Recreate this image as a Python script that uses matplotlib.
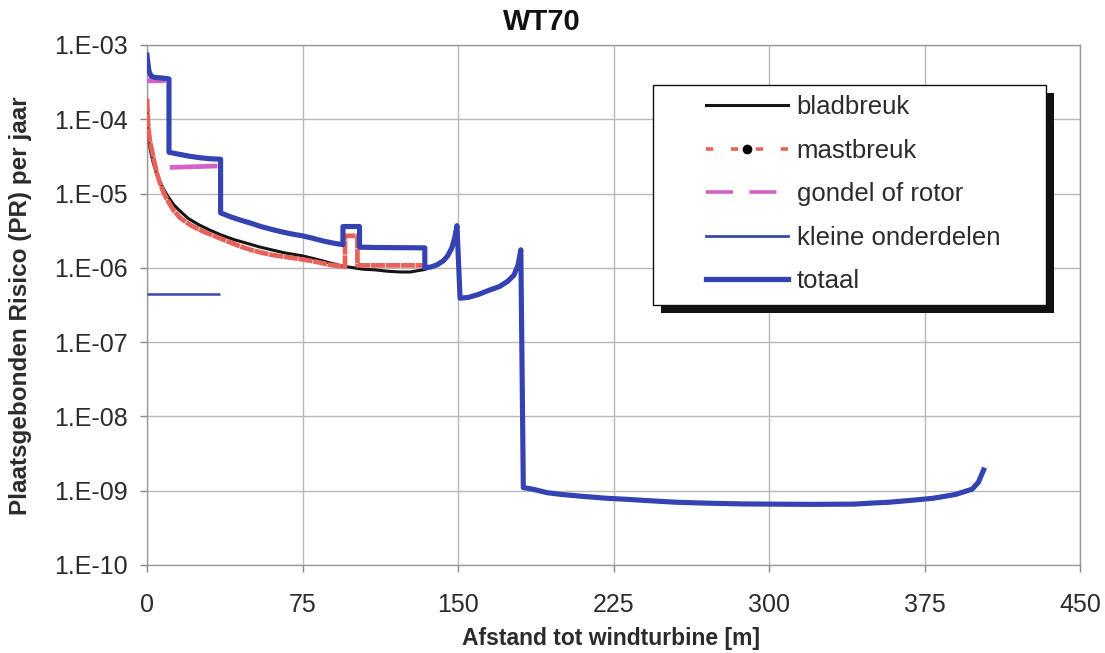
import numpy as np
import matplotlib
matplotlib.use("Agg")
import matplotlib.pyplot as plt
from matplotlib.lines import Line2D
from matplotlib.patches import Rectangle
from matplotlib.legend_handler import HandlerTuple

plt.rcParams['font.family'] = ['Liberation Sans', 'DejaVu Sans']

# ---------------- data ----------------
title = "WT70"
xlabel = "Afstand tot windturbine [m]"
ylabel = "Plaatsgebonden Risico (PR) per jaar"
x_ticks = [0, 75, 150, 225, 300, 375, 450]
y_ticks = [1e-10, 1e-9, 1e-8, 1e-7, 1e-6, 1e-5, 1e-4, 1e-3]
y_ticklabels = ["1.E-10", "1.E-09", "1.E-08", "1.E-07", "1.E-06", "1.E-05", "1.E-04", "1.E-03"]
series_names = ["bladbreuk", "mastbreuk", "gondel of rotor", "kleine onderdelen", "totaal"]

bladbreuk_x = [0, 0.3, 0.7, 1.2, 2, 3, 4.5, 6, 8, 10, 13, 16, 20, 25, 30, 36, 42, 48, 54,
               60, 67, 75, 82, 88, 94, 100, 104, 110, 116, 122, 127, 131, 134]
bladbreuk_y = [1.5e-4, 9e-5, 6e-5, 4.5e-5, 3.4e-5, 2.6e-5, 1.9e-5, 1.5e-5, 1.15e-5, 9.2e-6,
               7.0e-6, 5.8e-6, 4.6e-6, 3.8e-6, 3.25e-6, 2.75e-6, 2.4e-6, 2.15e-6, 1.92e-6,
               1.75e-6, 1.58e-6, 1.45e-6, 1.3e-6, 1.17e-6, 1.06e-6, 1.0e-6, 9.6e-7, 9.4e-7,
               9.0e-7, 8.8e-7, 8.8e-7, 9.2e-7, 9.5e-7]

mastbreuk_x = [0, 0.6, 1.3, 2.3, 3.5, 4.7, 6, 7.9, 10, 12.7, 16, 20.7, 25, 28.8, 33, 36.8,
               41, 44.9, 50, 54.5, 60, 67, 75, 82, 88, 95.5, 95.5, 101.5, 101.5, 110, 120, 134]
mastbreuk_y = [1.9e-4, 8e-5, 5.3e-5, 3.9e-5, 2.7e-5, 1.9e-5, 1.45e-5, 1.05e-5, 8.0e-6, 6.0e-6,
               4.7e-6, 3.8e-6, 3.3e-6, 2.95e-6, 2.65e-6, 2.4e-6, 2.15e-6, 1.95e-6, 1.75e-6,
               1.62e-6, 1.5e-6, 1.4e-6, 1.3e-6, 1.2e-6, 1.1e-6, 1.03e-6, 2.7e-6, 2.7e-6,
               1.08e-6, 1.08e-6, 1.08e-6, 1.08e-6]

gondel_x = [0, 9, np.nan, 11, 34]
gondel_y = [3.3e-4, 3.3e-4, np.nan, 2.25e-5, 2.35e-5]

kleine_x = [0, 35]
kleine_y = [4.4e-7, 4.4e-7]

totaal_x = [0, 0.5, 1, 2, 4, 7, 10.6, 10.6, 15, 20, 25, 30, 35.5, 35.5, 40, 45, 50, 55, 60,
            65, 70, 75, 80, 85, 90, 94.5, 94.5, 102.5, 102.5, 110, 120, 134, 134, 137, 140,
            143, 145, 147, 148.5, 149.5, 151, 155, 160, 165, 170, 174, 177, 179, 180.3, 181.5,
            186, 193, 200, 210, 222, 230, 240, 255, 270, 286, 300, 320, 341, 349, 358, 368,
            379, 390, 398, 401, 403.5]
totaal_y = [7.3e-4, 5.5e-4, 4.4e-4, 3.8e-4, 3.65e-4, 3.6e-4, 3.5e-4, 3.6e-5, 3.4e-5, 3.2e-5,
            3.05e-5, 2.95e-5, 2.9e-5, 5.5e-6, 4.9e-6, 4.4e-6, 4.0e-6, 3.6e-6, 3.3e-6, 3.05e-6,
            2.85e-6, 2.7e-6, 2.5e-6, 2.3e-6, 2.15e-6, 2.05e-6, 3.6e-6, 3.6e-6, 1.9e-6, 1.88e-6,
            1.87e-6, 1.86e-6, 1.0e-6, 1.03e-6, 1.1e-6, 1.25e-6, 1.45e-6, 1.85e-6, 2.6e-6,
            3.7e-6, 3.9e-7, 4.0e-7, 4.4e-7, 5.0e-7, 5.6e-7, 6.6e-7, 8.0e-7, 1.1e-6, 1.75e-6,
            1.1e-9, 1.05e-9, 9.4e-10, 8.9e-10, 8.4e-10, 7.9e-10, 7.7e-10, 7.4e-10, 7.0e-10,
            6.8e-10, 6.65e-10, 6.6e-10, 6.55e-10, 6.6e-10, 6.8e-10, 7.0e-10, 7.4e-10, 7.9e-10,
            8.9e-10, 1.05e-9, 1.3e-9, 1.9e-9]

# ---------------- styles ----------------
c_black = '#151515'
c_red = '#e8625a'
c_pink = '#d462c6'
c_blue_thin = '#3a48aa'
c_blue = '#3442b2'
c_text = '#2b2b2b'
c_grid = '#b8b8b8'

W, H = 1105, 653
fig = plt.figure(figsize=(W / 100, H / 100), dpi=100)
L, R, T, B = 147, 1080, 45, 565
ax = fig.add_axes([L / W, 1 - B / H, (R - L) / W, (B - T) / H])

ax.set_yscale('log')
ax.set_xlim(0, 450)
ax.set_ylim(1e-10, 1e-3)

ax.plot(kleine_x, kleine_y, color=c_blue_thin, lw=1.8, zorder=3, solid_capstyle='butt')
ax.plot(gondel_x, gondel_y, color=c_pink, lw=3.4, zorder=3, solid_capstyle='butt')
ax.plot(bladbreuk_x, bladbreuk_y, color=c_black, lw=2.2, zorder=3)
ax.plot(mastbreuk_x, mastbreuk_y, color=c_red, lw=3.4, zorder=4,
        linestyle=(0, (3.0, 0.15)))
ax.plot(totaal_x, totaal_y, color=c_blue, lw=3.7, zorder=5, solid_joinstyle='round')

# axes styling
ax.set_xticks(x_ticks)
ax.set_xticklabels([str(v) for v in x_ticks])
ax.set_yticks(y_ticks)
ax.set_yticklabels(y_ticklabels)
ax.yaxis.set_minor_locator(matplotlib.ticker.NullLocator())
ax.grid(True, which='major', color=c_grid, lw=1.0)
ax.set_axisbelow(True)
for s in ax.spines.values():
    s.set_color('#999999')
    s.set_linewidth(1.0)
ax.tick_params(axis='both', which='major', direction='out', length=5, width=1,
               color='#888888', labelsize=18, labelcolor=c_text)
ax.tick_params(axis='y', pad=9)
ax.tick_params(axis='x', pad=15)

fig.text(542 / W, 1 - 22 / H, title, ha='center', va='center', fontsize=21,
         fontweight='bold', color='#111111')
fig.text(611 / W, 1 - 639 / H, xlabel, ha='center', va='center', fontsize=16.5,
         fontweight='bold', color=c_text)
fig.text(21 / W, 1 - 306 / H, ylabel, ha='center', va='center', fontsize=17.5,
         fontweight='bold', color=c_text, rotation=90)

# legend box with hard shadow
def ax_x(px):
    return (px - L) / (R - L)

def ax_y(py):
    return (B - py) / (B - T)

bx0, bx1, by0, by1 = 653, 1046, 85, 305
sh = 8
ax.add_patch(Rectangle((ax_x(bx0 + sh), ax_y(by1 + sh)), ax_x(bx1 + sh) - ax_x(bx0 + sh),
                       ax_y(by0 + sh) - ax_y(by1 + sh), transform=ax.transAxes,
                       facecolor='#111111', edgecolor='none', zorder=8, clip_on=False))
ax.add_patch(Rectangle((ax_x(bx0), ax_y(by1)), ax_x(bx1) - ax_x(bx0),
                       ax_y(by0) - ax_y(by1), transform=ax.transAxes,
                       facecolor='white', edgecolor='#111111', lw=1.0, zorder=9, clip_on=False))

h_blad = Line2D([], [], color=c_black, lw=2.2)
h_mast = (Line2D([], [], color=c_red, lw=2.6, linestyle=(0, (2.0, 4.9))),
          Line2D([], [], color='black', marker='o', ms=6, linestyle='none'))
h_gond = Line2D([], [], color=c_pink, lw=2.6, linestyle=(0, (7.5, 4.5)))
h_klein = Line2D([], [], color=c_blue_thin, lw=2.0)
h_tot = Line2D([], [], color=c_blue, lw=3.8)

leg = ax.legend([h_blad, h_mast, h_gond, h_klein, h_tot], series_names,
                handler_map={tuple: HandlerTuple(ndivide=1)},
                loc='upper left', bbox_to_anchor=(ax_x(706), ax_y(95)),
                frameon=False, borderpad=0, borderaxespad=0, fontsize=18.5,
                handlelength=3.2, handletextpad=0.33, labelspacing=0.76, numpoints=1)
leg.set_zorder(10)
for t in leg.get_texts():
    t.set_color(c_text)

fig.savefig('out.png', dpi=100, facecolor='white')
